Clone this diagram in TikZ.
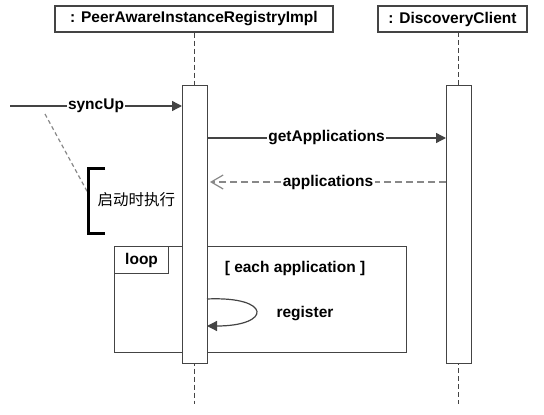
\documentclass[tikz,border=0pt]{standalone}
\usepackage{fontspec}
\setmainfont{Liberation Sans}
\newfontfamily\cjk{Noto Sans CJK SC}
\usetikzlibrary{arrows.meta}
\definecolor{lc}{HTML}{444444}
\definecolor{dc}{HTML}{888888}
\begin{document}
\begin{tikzpicture}[x=1pt,y=-1pt,
  every node/.style={font=\fontsize{15.5}{18}\selectfont\bfseries},
  head/.style={draw=lc,line width=1.4pt,fill=white,inner sep=0pt,minimum height=26pt},
  act/.style={draw=lc,line width=1.2pt,fill=white,inner sep=0pt,minimum width=25pt,minimum height=278pt},
  life/.style={draw=lc,line width=1pt,dash pattern=on 5pt off 3pt},
  msg/.style={draw=lc,line width=1.4pt,-{Triangle[length=10pt,width=10pt]}},
  ret/.style={draw=dc,line width=1.4pt,dash pattern=on 7pt off 4pt,-{Straight Barb[length=12pt,width=14pt,line width=1.2pt]}},
  lbl/.style={fill=white,inner sep=1.5pt}]
\useasboundingbox (0,0) rectangle (544,415);
% headers
\node[head,minimum width=278pt] (h1) at (194,19) {: PeerAwareInstanceRegistryImpl};
\node[head,minimum width=149pt] (h2) at (452.5,19) {: DiscoveryClient};
% lifelines
\coordinate (e1) at (194,404);
\coordinate (e2) at (458,404);
\draw[life] (h1.south) -- (e1);
\draw[life] (458,32) -- (e2);
% activations
\node[act,anchor=north west] (a1) at (182,85) {};
\node[act,anchor=north west] (a2) at (446,85) {};
% loop frame
\node[draw=lc,line width=1.2pt,anchor=north west,minimum width=292pt,minimum height=106pt,inner sep=0pt] (loop) at (114,246) {};
\node[draw=lc,line width=1.2pt,anchor=north west,minimum width=54pt,minimum height=27pt,inner sep=0pt] (tab) at (114,246) {loop};
\node (guard) at (295,268) {[ each application ]};
% redraw activation 1 over the frame
\node[act,anchor=north west] (a1b) at (182,85) {};
% syncUp
\coordinate (s0) at (10,106);
\coordinate (s1) at (182,106);
\draw[msg] (s0) -- node[lbl] {syncUp} (s1);
% getApplications
\coordinate (g0) at (207,138);
\coordinate (g1) at (446,138);
\draw[msg] (g0) -- node[lbl] {getApplications} (g1);
% applications (return)
\coordinate (r0) at (446,182);
\coordinate (r1) at (210,182);
\draw[ret] (r0) -- node[lbl,text=black] {applications} (r1);
% self call
\coordinate (c0) at (207,299);
\coordinate (c1) at (207,326);
\draw[msg,line width=1.2pt] (c0) .. controls (272,296) and (272,326) .. (c1);
\node (reg) at (305,314) {register};
% note
\coordinate (n0) at (45,114);
\coordinate (n1) at (88,193);
\draw[draw=dc,line width=1.2pt,dash pattern=on 4pt off 3pt] (n0) -- (n1);
\draw[line width=3pt] (105,168) -- (88,168) -- (88,233) -- (105,233);
\node[font=\fontsize{15.5}{18}\selectfont\cjk,anchor=west] (note) at (94,200) {启动时执行};
\end{tikzpicture}
\end{document}
